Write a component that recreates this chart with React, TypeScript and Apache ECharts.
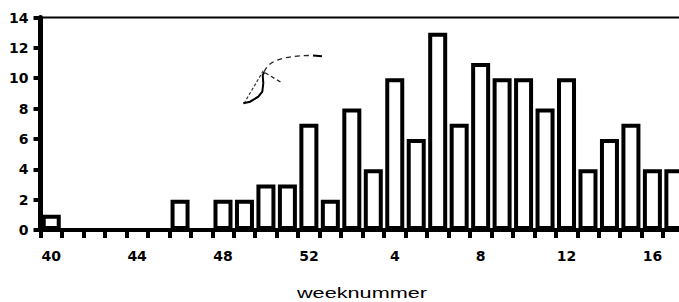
import React, { useEffect, useRef } from "react";
import * as echarts from "echarts";

const weeks: string[] = [
  "40", "41", "42", "43", "44", "45", "46", "47", "48", "49", "50", "51", "52",
  "1", "2", "3", "4", "5", "6", "7", "8", "9", "10", "11", "12", "13", "14", "15", "16", "17",
];
const counts: number[] = [
  1, 0, 0, 0, 0, 0, 2, 0, 2, 2, 3, 3, 7,
  2, 8, 4, 10, 6, 13, 7, 11, 10, 10, 8, 10, 4, 6, 7, 4, 4,
];
const yTicks = { min: 0, max: 14, interval: 2 };
const xTitle = "weeknummer";

export default function App() {
  const ref = useRef<HTMLDivElement>(null);
  useEffect(() => {
    if (!ref.current) return;
    const chart = echarts.init(ref.current, undefined, { renderer: "svg" });
    const labelFont = "DejaVu Sans";
    chart.setOption({
      animation: false,
      backgroundColor: "#fff",
      grid: {
        left: 40.5,
        top: 17.5,
        bottom: 72,
        right: -5.6,
        outerBoundsMode: "none",
        containLabel: false,
        show: true,
        borderColor: "#000",
        borderWidth: 2,
        backgroundColor: "transparent",
      },
      xAxis: {
        type: "category",
        data: weeks,
        boundaryGap: true,
        axisLine: { show: true, lineStyle: { color: "#000", width: 4 } },
        axisTick: { show: true, interval: 0, length: 8, lineStyle: { color: "#000", width: 4 } },
        axisLabel: {
          interval: 3,
          margin: 19,
          color: "#000",
          fontFamily: labelFont,
          fontWeight: "bold",
          fontSize: 14,
        },
        splitLine: { show: false },
      },
      yAxis: {
        type: "value",
        min: yTicks.min,
        max: yTicks.max,
        interval: yTicks.interval,
        axisLine: { show: true, lineStyle: { color: "#000", width: 5 } },
        axisTick: { show: true, length: 7, lineStyle: { color: "#000", width: 4 } },
        axisLabel: {
          margin: 12,
          color: "#000",
          fontFamily: labelFont,
          fontWeight: "bold",
          fontSize: 14,
        },
        splitLine: { show: false },
      },
      series: [
        {
          type: "bar",
          data: counts,
          barWidth: 19,
          itemStyle: { color: "#fff", borderColor: "#000", borderWidth: 4 },
        },
      ],
      graphic: [
        {
          type: "text",
          x: 362,
          y: 293,
          scaleX: 1.4,
          style: {
            text: xTitle,
            font: "15.5px 'Liberation Sans'",
            fill: "#000",
            textAlign: "center",
            textVerticalAlign: "middle",
          },
        },
        {
          type: "polyline",
          shape: {
            points: [
              [263.3, 70.7],
              [245, 101.7],
            ],
          },
          style: { stroke: "#333", lineWidth: 1.2, lineDash: [3, 2], fill: null },
        },
        {
          type: "polyline",
          shape: {
            points: [
              [243.3, 103.3],
              [250, 101.7],
              [258.3, 96.7],
              [262.3, 91.7],
              [263.3, 83.3],
              [262.7, 75],
              [264.3, 72.3],
            ],
          },
          style: { stroke: "#000", lineWidth: 2, fill: null },
        },
        {
          type: "line",
          shape: { x1: 265, y1: 72.7, x2: 281.7, y2: 82.7 },
          style: { stroke: "#222", lineWidth: 1.3, lineDash: [4, 3] },
        },
        {
          type: "bezierCurve",
          shape: { x1: 264.3, y1: 71.7, cpx1: 268, cpy1: 62, cpx2: 280, cpy2: 56, x2: 310, y2: 55.5 },
          style: { stroke: "#222", lineWidth: 1.3, lineDash: [5, 4], fill: null },
        },
        {
          type: "line",
          shape: { x1: 313, y1: 55.5, x2: 322, y2: 56.2 },
          style: { stroke: "#000", lineWidth: 2 },
        },
      ],
    });
    return () => chart.dispose();
  }, []);
  return (
    <div
      ref={ref}
      style={{ position: "absolute", left: 0, top: 0, width: 679, height: 302, background: "#fff" }}
    />
  );
}
